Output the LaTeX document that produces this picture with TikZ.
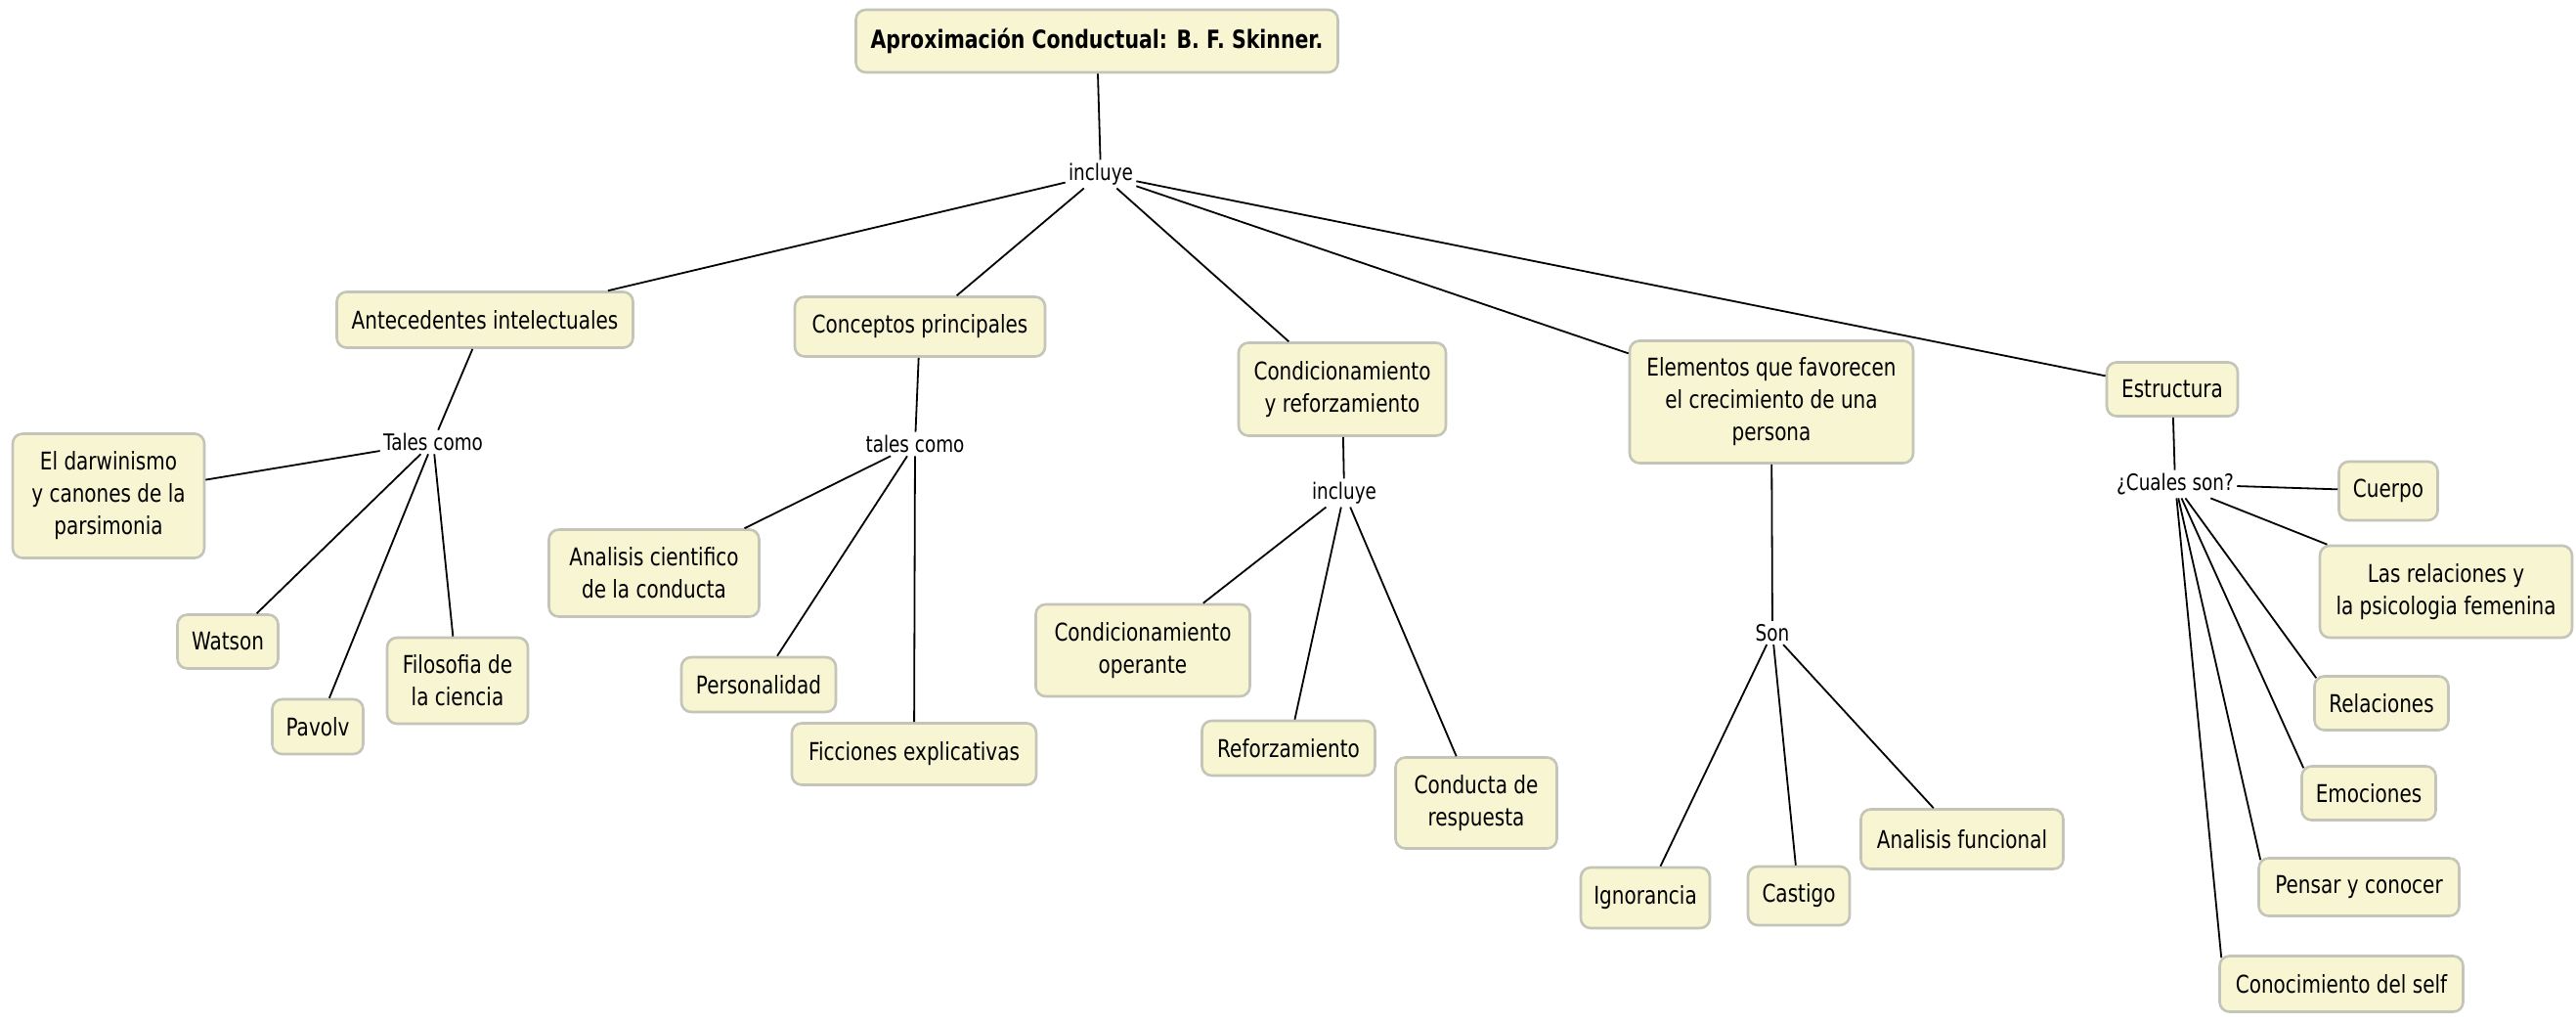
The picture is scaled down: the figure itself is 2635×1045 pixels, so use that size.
\documentclass[tikz,border=0pt]{standalone}
\usepackage{fontspec}
\setmainfont[FakeStretch=0.8]{DejaVu Sans}
\begin{document}
\begin{tikzpicture}[x=0.5pt,y=-0.5pt,
  concept/.style={draw={rgb,255:red,196;green,196;blue,184}, line width=1.3pt,
    fill={rgb,255:red,247;green,245;blue,210}, rounded corners=5pt, align=center,
    font=\fontsize{12.5}{16.5}\selectfont, inner sep=2pt},
  lbl/.style={font=\fontsize{11.5}{14}\selectfont, inner sep=1.5pt},
  conn/.style={draw=black, line width=0.9pt}]
\path[fill=white, use as bounding box] (0,0) rectangle (2635,1045);

\node[concept, font=\bfseries\fontsize{12.8}{16}\selectfont, minimum width=246.5pt, minimum height=32pt] (title) at (1122,42) {Aproximación Conductual: B. F. Skinner.};
\node[lbl] (inc1) at (1126,178) {incluye};

\node[concept, minimum width=151.5pt, minimum height=28.5pt] (ante) at (496,327) {Antecedentes intelectuales};
\node[lbl] (tal1) at (443,452) {Tales como};
\node[concept, minimum width=98pt, minimum height=63.5pt] (darw) at (111,507) {El darwinismo\\y canones de la\\parsimonia};
\node[concept, minimum width=51.5pt, minimum height=27.5pt] (wats) at (233,656) {Watson};
\node[concept, minimum width=46.5pt, minimum height=28pt] (pav) at (325,743) {Pavolv};
\node[concept, minimum width=72pt, minimum height=44pt] (filo) at (468,696) {Filosofia de\\la ciencia};

\node[concept, minimum width=128pt, minimum height=30.5pt] (conc) at (941,334) {Conceptos principales};
\node[lbl] (tal2) at (936,454) {tales como};
\node[concept, minimum width=107.5pt, minimum height=44.5pt] (anal) at (669,586) {Analisis cientifico\\de la conducta};
\node[concept, minimum width=79pt, minimum height=28pt] (pers) at (776,700) {Personalidad};
\node[concept, minimum width=125pt, minimum height=31.5pt] (fic) at (935,771) {Ficciones explicativas};

\node[concept, minimum width=106pt, minimum height=47.5pt] (cond) at (1373,398) {Condicionamiento\\y reforzamiento};
\node[lbl] (inc2) at (1375,504) {incluye};
\node[concept, minimum width=109.5pt, minimum height=47pt] (cop) at (1169,665) {Condicionamiento\\operante};
\node[concept, minimum width=88.5pt, minimum height=28pt] (ref) at (1318,765) {Reforzamiento};
\node[concept, minimum width=82.5pt, minimum height=46.5pt] (cres) at (1510,821) {Conducta de\\respuesta};

\node[concept, minimum width=145pt, minimum height=62.5pt] (elem) at (1812,411) {Elementos que favorecen\\el crecimiento de una\\persona};
\node[lbl] (son) at (1813,647) {Son};
\node[concept, minimum width=66pt, minimum height=31pt] (ign) at (1683,918) {Ignorancia};
\node[concept, minimum width=52pt, minimum height=30pt] (cast) at (1840,916) {Castigo};
\node[concept, minimum width=103.5pt, minimum height=30.5pt] (anf) at (2007,858) {Analisis funcional};

\node[concept, minimum width=67pt, minimum height=27.5pt] (estr) at (2222,398) {Estructura};
\node[lbl] (cual) at (2225,495) {¿Cuales son?};
\node[concept, minimum width=50.5pt, minimum height=30pt] (cuer) at (2443,502) {Cuerpo};
\node[concept, minimum width=129pt, minimum height=47pt] (lrel) at (2502,605) {Las relaciones y\\la psicologia femenina};
\node[concept, minimum width=68.5pt, minimum height=27.5pt] (rel) at (2436,719) {Relaciones};
\node[concept, minimum width=68.5pt, minimum height=27.5pt] (emo) at (2423,811) {Emociones};
\node[concept, minimum width=102.5pt, minimum height=29.5pt] (pen) at (2413,907) {Pensar y conocer};
\node[concept, minimum width=124.5pt, minimum height=28.5pt] (self) at (2395,1006) {Conocimiento del self};

\draw[conn] (title) -- (inc1);
\foreach \t in {ante,conc,cond,elem,estr} \draw[conn] (inc1) -- (\t);
\draw[conn] (ante) -- (tal1);
\foreach \t in {darw,wats,pav,filo} \draw[conn] (tal1) -- (\t);
\draw[conn] (conc) -- (tal2);
\foreach \t in {anal,pers,fic} \draw[conn] (tal2) -- (\t);
\draw[conn] (cond) -- (inc2);
\foreach \t in {cop,ref,cres} \draw[conn] (inc2) -- (\t);
\draw[conn] (elem) -- (son);
\foreach \t in {ign,cast,anf} \draw[conn] (son) -- (\t);
\draw[conn] (estr) -- (cual);
\draw[conn] (cual) -- (cuer);
\draw[conn] (cual) -- (lrel);
\foreach \t in {rel,emo,pen,self} \draw[conn] (cual) -- ([xshift=1.5pt,yshift=-1.5pt]\t.north west);
\end{tikzpicture}
\end{document}
